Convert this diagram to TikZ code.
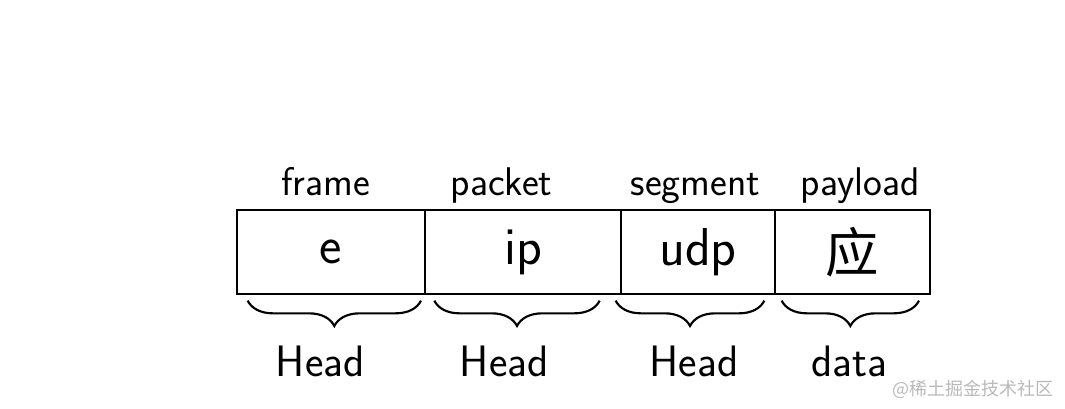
\documentclass[tikz,border=0pt]{standalone}
\usepackage{fontspec}
\newfontfamily\cjk{Noto Sans CJK SC}
\usetikzlibrary{positioning, decorations.pathreplacing}

\tikzset{
  field/.style = {draw, line width = 1.6pt, minimum height = 63pt, inner sep = 0pt, outer sep = 0pt, font = \sffamily\fontsize{40}{40}\selectfont},
  headbrace/.style = {decorate, decoration = {brace, mirror, amplitude = 19pt}, line width = 1.6pt},
  toplabel/.style = {anchor = base, font = \sffamily\fontsize{30}{30}\selectfont},
  botlabel/.style = {anchor = base, font = \sffamily\fontsize{33}{33}\selectfont},
}

\begin{document}
\begin{tikzpicture}[x = 0.75pt, y = 0.75pt]
\useasboundingbox (0, 0) rectangle (1065, 408);
% the four fields
\node[field, minimum width = 141pt] (eth) at (331, 156) {e};
\node[field, minimum width = 147pt, right = 0pt of eth] (ip) {ip};
\node[field, minimum width = 115.5pt, right = 0pt of ip] (udp) {udp};
\node[field, minimum width = 116pt, right = 0pt of udp] (app) {\cjk 应};
% names above
\node[toplabel] (frame) at ([xshift = -4pt, yshift = 11pt]eth.north) {frame};
\node[toplabel] (packet) at ([xshift = -16pt, yshift = 11pt]ip.north) {packet};
\node[toplabel] (segment) at ([xshift = -2pt, yshift = 11pt]udp.north) {segment};
\node[toplabel] (payload) at ([xshift = 6pt, yshift = 11pt]app.north) {payload};
% braces below
\draw[headbrace] ([xshift = 8pt, yshift = -5pt]eth.south west) -- ([xshift = -3pt, yshift = -5pt]eth.south east);
\draw[headbrace] ([xshift = 7pt, yshift = -5pt]ip.south west) -- ([xshift = -16pt, yshift = -5pt]ip.south east);
\draw[headbrace] ([xshift = -4pt, yshift = -5pt]udp.south west) -- ([xshift = -8pt, yshift = -5pt]udp.south east);
\draw[headbrace] ([xshift = 5pt, yshift = -5pt]app.south west) -- ([xshift = -8pt, yshift = -5pt]app.south east);
% what each part is
\node[botlabel] (head1) at ([xshift = -8pt, yshift = -62pt]eth.south) {Head};
\node[botlabel] (head2) at ([xshift = -14pt, yshift = -62pt]ip.south) {Head};
\node[botlabel] (head3) at ([xshift = -3pt, yshift = -62pt]udp.south) {Head};
\node[botlabel] (data) at ([xshift = -2pt, yshift = -62pt]app.south) {data};
% watermark
\node[anchor = base east, text = gray!55, font = \cjk\fontsize{13.5}{13.5}\selectfont] (mark) at (1058, 13) {@稀土掘金技术社区};
\end{tikzpicture}
\end{document}
